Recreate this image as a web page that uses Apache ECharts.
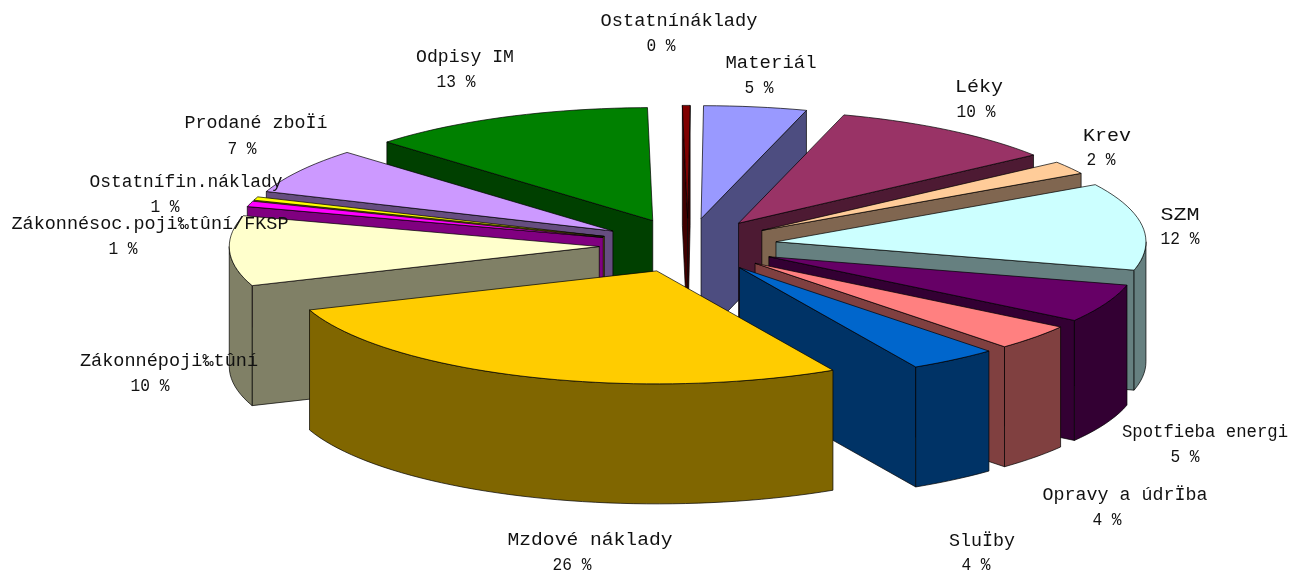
<!DOCTYPE html>
<html><head><meta charset="utf-8">
<style>html,body{margin:0;padding:0;background:#fff}#c{width:1291px;height:576px}</style>
<script src="https://cdn.jsdelivr.net/npm/echarts@6/dist/echarts.min.js"></script>
</head><body><div id="c"></div>
<script>
const categories = ['Materiál','Léky','Krev','SZM','Spotfieba energi','Opravy a údrÏba','SluÏby','Mzdové náklady','Zákonnépoji‰tûní','Zákonnésoc.poji‰tûní/FKSP','Ostatnífin.náklady','Prodané zboÏí','Odpisy IM','Ostatnínáklady'];
const values = [4.72,10.49,1.93,12.49,5.35,3.55,3.7,26.05,9.95,0.8,0.5,6.7,13.1,0.35];
const percentLabels = ['5 %','10 %','2 %','12 %','5 %','4 %','4 %','26 %','10 %','1 %','1 %','7 %','13 %','0 %'];
const topColors = ['#9999FF','#993366','#FFCC99','#CCFFFF','#660066','#FF8080','#0066CC','#FFCC00','#FFFFCC','#FF00FF','#FFFF00','#CC99FF','#008000','#800000'];
const wallColors = ['#4D4D80','#4D1A33','#806650','#668080','#330033','#804040','#003366','#806600','#808066','#800080','#808000','#664D80','#004000','#400000'];
const titleX = [771,979,1107,1180,1205,1125,982,590,169,150,186,256,465,679];
const titleY = [63,87,136,215,432,495,541,540,361,224,182,123,57,21];
const titleW = [91,48,48,39,166,165,66,165,178,277,193,143,98,157];
const percentX = [759,976,1101,1180,1185,1107,976,572,150,123,165,242,456,661];
const percentY = [88,112,160,239,457,520,565,565,386,249,207,149,82,46];

const CX = 688, CY = 245.5, RX = 370, RY = 113, DEPTH = 120, EXPLODE = 0.24, WARP = 3, STEP = 2, START = -89.6, CHAR_W = 10.8;
const total = values.reduce((a, b) => a + b, 0);
const rad = d => d * Math.PI / 180;
const warp = t => t - WARP * Math.cos(rad(t));
let cum = START;
const slices = values.map((v, i) => {
  const t0 = cum; cum += v / total * 360;
  const a0 = warp(t0), a1 = warp(cum), mid = (a0 + a1) / 2;
  return { i, a0, a1, ax: CX + EXPLODE * RX * Math.cos(rad(mid)), ay: CY + EXPLODE * RY * Math.sin(rad(mid)), s: Math.sin(rad(mid)) };
});
const drawOrder = slices.slice().sort((p, q) => p.s - q.s).map(p => p.i);
const pt = (s, a, dz) => [s.ax + RX * Math.cos(rad(a)), s.ay + RY * Math.sin(rad(a)) + (dz || 0)];
const arc = (s, a, b, dz) => { const r = []; for (let x = a; x < b; x += STEP) r.push(pt(s, x, dz)); r.push(pt(s, b, dz)); return r; };
const stl = f => ({ fill: f, stroke: '#000', lineWidth: 0.7 });
function poly(points, fill) { return { type: 'polygon', shape: { points }, style: stl(fill) }; }

function renderItem(params, api) {
  const s = slices[api.value(0)], wall = wallColors[s.i], A = [s.ax, s.ay], Ad = [s.ax, s.ay + DEPTH];
  const children = [];
  const face = a => { const p = pt(s, a), q = pt(s, a, DEPTH); children.push(poly([A, p, q, Ad], wall)); };
  if (Math.cos(rad(s.a0)) < 0) face(s.a0);
  if (Math.cos(rad(s.a1)) > 0) face(s.a1);
  const lo = Math.max(s.a0, 0), hi = Math.min(s.a1, 180);
  if (lo < hi) children.push(poly(arc(s, lo, hi, 0).concat(arc(s, lo, hi, DEPTH).reverse()), wall));
  children.push(poly([A].concat(arc(s, s.a0, s.a1, 0)), topColors[s.i]));
  return { type: 'group', children };
}
const textEl = (text, x, y, scaleX) => ({
  type: 'text', x, y, scaleX, z: 100, silent: true,
  style: { text, font: '18px "Liberation Mono"', fill: '#111', align: 'center', verticalAlign: 'middle' }
});
const chart = echarts.init(document.getElementById('c'), null, { renderer: 'canvas' });
chart.setOption({
  animation: false, backgroundColor: '#fff',
  series: [{ type: 'custom', coordinateSystem: 'none', silent: true, renderItem, data: drawOrder.map(i => [i]) }],
  graphic: categories.flatMap((c, i) => [
    textEl(c, titleX[i], titleY[i], titleW[i] / (c.length * CHAR_W)),
    textEl(percentLabels[i], percentX[i], percentY[i], 0.9)
  ])
});
</script></body></html>
